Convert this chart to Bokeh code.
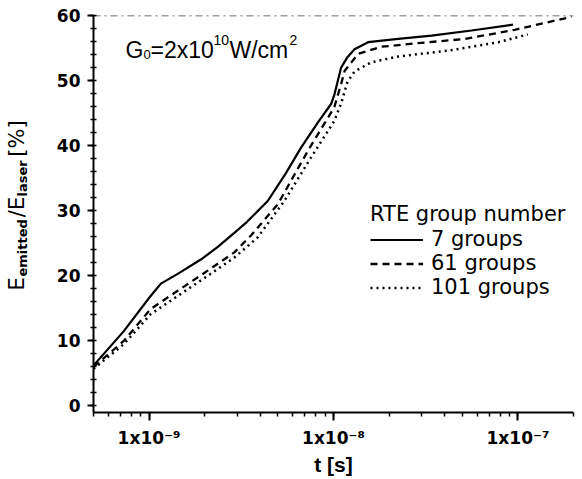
import math
from bokeh.plotting import figure
from bokeh.models import (Range1d, Legend, LegendItem, Label, Span,
                          SingleIntervalTicker, LogTicker, CustomJSTickFormatter)
from bokeh.embed import file_html
from bokeh.resources import INLINE

# ---------------- data ----------------
t_7 = [5e-10, 7.3e-10, 1.02e-9, 1.16e-9, 1.43e-9, 1.91e-9, 2.35e-9, 2.9e-9,
       3.4e-9, 4.4e-9, 5.5e-9, 6.67e-9, 8.2e-9, 9.7e-9, 1.01e-8, 1.1e-8,
       1.19e-8, 1.3e-8, 1.54e-8, 2.24e-8, 3.4e-8, 5.6e-8, 9.4e-8]
e_7 = [6.2, 11.5, 16.9, 18.8, 20.3, 22.5, 24.4, 26.6,
       28.3, 31.5, 35.7, 39.7, 43.5, 46.4, 47.8, 52.0,
       53.6, 54.8, 55.9, 56.4, 56.9, 57.7, 58.6]

t_61 = [5e-10, 7.3e-10, 1.02e-9, 1.43e-9, 2.08e-9, 2.9e-9, 3.57e-9, 4.99e-9,
        7.26e-9, 1.01e-8, 1.1e-8, 1.15e-8, 1.36e-8, 1.82e-8, 2.75e-8, 5.18e-8,
        9.6e-8, 1.95e-7]
e_61 = [6.0, 10.0, 14.9, 17.7, 20.8, 23.6, 26.2, 31.0,
        39.2, 45.9, 49.5, 51.5, 54.1, 55.2, 55.7, 56.4,
        57.8, 59.8]

t_101 = [5e-10, 7.3e-10, 1.02e-9, 1.43e-9, 2.08e-9, 2.9e-9, 3.88e-9, 5.41e-9,
         7.56e-9, 1.01e-8, 1.1e-8, 1.19e-8, 1.3e-8, 1.6e-8, 2.24e-8, 4.19e-8,
         7.84e-8, 1.13e-7]
e_101 = [5.7, 9.5, 14.1, 16.9, 20.0, 22.8, 25.9, 31.5,
         38.2, 43.8, 46.5, 49.8, 51.4, 52.8, 53.7, 54.6,
         55.9, 57.1]

series_labels = ["7 groups", "61 groups", "101 groups"]
legend_title = "RTE group number"

x_ticks = [1e-9, 1e-8, 1e-7]
x_tick_labels = ["1x10\u207b\u2079", "1x10\u207b\u2078", "1x10\u207b\u2077"]
x_title = "t [s]"

T_MIN, T_MAX = 5e-10, 2e-7
Y_MIN, Y_MAX = -1, 60

ARIAL = "Liberation Sans"
DV = "DejaVu Sans"
NB = "\u00a0"
INK = "black"

# layout (page pixels)
W, H = 582, 479
FL, FR, FT, FB = 93, 573, 15, 412

p = figure(width=W, height=H, x_axis_type="log",
           x_range=Range1d(T_MIN, T_MAX), y_range=Range1d(Y_MIN, Y_MAX),
           output_backend="svg", toolbar_location=None,
           min_border_left=FL, min_border_right=W - FR,
           min_border_top=FT, min_border_bottom=H - FB)

p.xgrid.visible = False
p.ygrid.visible = False
p.outline_line_color = None
p.background_fill_color = "white"
p.border_fill_color = "white"


def px2x(px):
    dec = math.log10(T_MAX / T_MIN) / (FR - FL)
    return T_MIN * 10 ** ((px - FL) * dec)


def py2y(py):
    return Y_MAX - (py - FT) * (Y_MAX - Y_MIN) / (FB - FT)


r7 = p.line(t_7, e_7, line_color=INK, line_width=2.2)
r61 = p.line(t_61, e_61, line_color=INK, line_width=2.3, line_dash="7 5")
r101 = p.line(t_101, e_101, line_color=INK, line_width=2.5, line_dash="2 4")

# broken top frame line
p.add_layout(Span(location=Y_MAX, dimension="width", line_color=INK,
                  line_width=1.5, line_alpha=0.75, line_dash="7 4 2 4"))

# x axis
xa = p.xaxis[0]
xa.ticker = LogTicker(desired_num_ticks=3, num_minor_ticks=10)
xa.formatter = CustomJSTickFormatter(args=dict(tvals=x_ticks, tlabels=x_tick_labels), code="""
    let best = 0, bd = Infinity;
    for (let i = 0; i < tvals.length; i++) {
        const d = Math.abs(Math.log10(tick) - Math.log10(tvals[i]));
        if (d < bd) { bd = d; best = i; }
    }
    return bd < 0.01 ? tlabels[best] : "";
""")
xa.axis_line_width = 2
xa.axis_line_color = INK
xa.major_tick_line_color = INK
xa.minor_tick_line_color = INK
xa.major_tick_line_width = 2
xa.minor_tick_line_width = 1.5
xa.major_tick_in = 0
xa.major_tick_out = 8
xa.minor_tick_in = 0
xa.minor_tick_out = 4
xa.major_label_standoff = 7
xa.major_label_text_font = DV
xa.major_label_text_font_size = "17px"
xa.major_label_text_font_style = "bold"
xa.major_label_text_color = INK
xa.axis_label = x_title
xa.axis_label_standoff = 2
xa.axis_label_text_font = ARIAL
xa.axis_label_text_font_size = "21px"
xa.axis_label_text_font_style = "bold"
xa.axis_label_text_color = INK

# y axis
ya = p.yaxis[0]
ya.ticker = SingleIntervalTicker(interval=10, num_minor_ticks=5)
ya.axis_line_width = 2
ya.axis_line_color = INK
ya.major_tick_line_color = INK
ya.minor_tick_line_color = INK
ya.major_tick_line_width = 2
ya.minor_tick_line_width = 1.5
ya.major_tick_in = 0
ya.major_tick_out = 6
ya.minor_tick_in = 3
ya.minor_tick_out = 3
ya.major_label_standoff = 7
ya.major_label_text_font = DV
ya.major_label_text_font_size = "17px"
ya.major_label_text_font_style = "bold"
ya.major_label_text_color = INK

# y axis title: E_emitted / E_laser [%]  (main line + subscript line)
sub_txt = "emitted" + NB * 5 + "laser"
main_txt = "E" + NB * 9 + "/E" + NB * 6 + "[%]"
p.add_layout(Label(x=px2x(22), y=py2y(276), text=sub_txt, angle=math.pi / 2,
                   text_align="left", text_baseline="alphabetic", text_color=INK,
                   text_font=DV, text_font_size="13px", text_font_style="bold"), "left")
p.add_layout(Label(x=px2x(16), y=py2y(290), text=main_txt, angle=math.pi / 2,
                   text_align="left", text_baseline="alphabetic", text_color=INK,
                   text_font=DV, text_font_size="21px"), "left")

# annotation G0 = 2x10^10 W/cm^2 (screen px relative to the frame)
ann = [("G", 32, 363, "23px"), ("0", 50, 358, "13px"), ("=2x10", 57, 363, "23px"),
       ("10", 120, 373, "14px"), ("W/cm", 136, 363, "23px"), ("2", 196, 373, "14px")]
for txt, xx, yy, fs in ann:
    p.add_layout(Label(x=xx, y=yy, x_units="screen", y_units="screen", text=txt,
                       text_align="left", text_baseline="alphabetic", text_color=INK,
                       text_font=ARIAL, text_font_size=fs))

legend = Legend(items=[LegendItem(label=series_labels[0], renderers=[r7]),
                       LegendItem(label=series_labels[1], renderers=[r61]),
                       LegendItem(label=series_labels[2], renderers=[r101])],
                title=legend_title, location=(277, 113),
                border_line_color=None, background_fill_alpha=0,
                label_text_font=DV, label_text_font_size="21px", label_text_color=INK,
                title_text_font=DV, title_text_font_size="21px", title_text_color=INK,
                title_text_font_style="normal",
                glyph_width=53, glyph_height=21, label_height=21,
                spacing=0, padding=0, margin=0, label_standoff=8, title_standoff=1)
p.add_layout(legend)

open("out.html", "w").write(file_html(p, INLINE))
